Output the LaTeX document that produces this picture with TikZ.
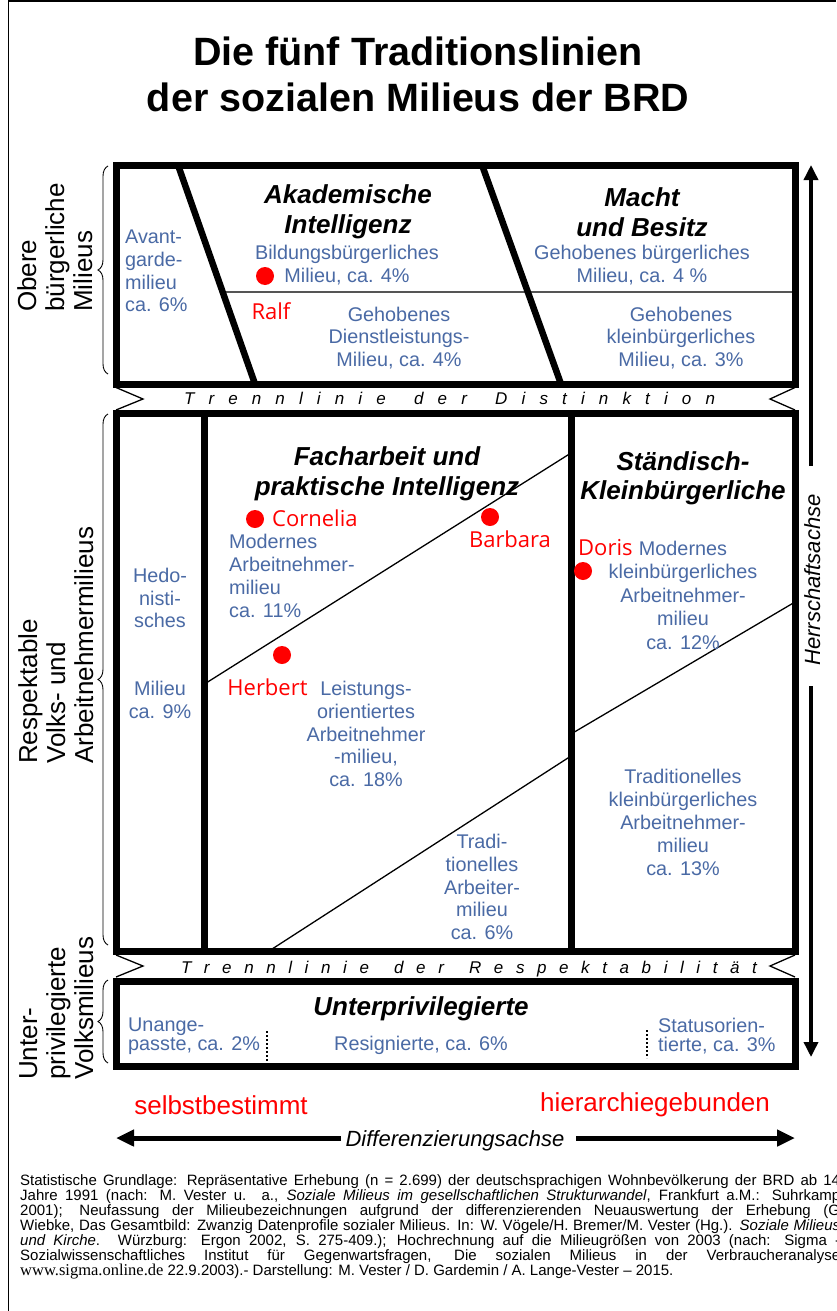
\documentclass[tikz,border=0pt]{standalone}
\usepackage{fontspec}
\setmainfont{Liberation Sans}
\newfontfamily\namefont{Open Sans}
\newfontfamily\urlfont{Liberation Serif}
\usetikzlibrary{arrows.meta,decorations.pathreplacing}

\definecolor{milieublue}{HTML}{4A6AA5}
\definecolor{namered}{HTML}{FF0000}
\definecolor{rulegray}{HTML}{555555}

\newcommand\fsz[2]{\fontsize{#1pt}{#2pt}\selectfont}
% stretchable gaps between the letters and words of a spaced-out caption
\newcommand\lgp{\hfil}
\newcommand\wordgap{\hfil\hfil}

\begin{document}
\begin{tikzpicture}[x=1pt,y=-1pt,
  boxline/.style={line width=7pt, line join=miter},
  divider/.style={line width=6.5pt},
  thinrule/.style={line width=1.3pt},
  notchline/.style={line width=1.3pt, line join=miter},
  milieutext/.style={text=milieublue, font=\fsz{19.8}{22.8}, align=center, inner sep=0pt},
  headtext/.style={font=\fsz{26}{30}\bfseries\itshape, align=center, inner sep=0pt},
  nametext/.style={text=namered, font=\namefont\fsz{22}{24}, inner sep=0pt},
  persondot/.style={circle, fill=namered, minimum size=18pt, inner sep=0pt},
  sidelabel/.style={rotate=90, align=left, font=\fsz{26}{28}, inner sep=0pt, anchor=north west},
  groupbrace/.style={decorate, decoration={brace, amplitude=10pt}, line width=0.9pt},
  trenntext/.style={font=\fsz{17}{20}\itshape, inner sep=0pt, anchor=base},
  axisline/.style={line width=3.5pt, -{Triangle[width=14pt,length=15pt]}},
  diffline/.style={line width=5pt, -{Triangle[width=16pt,length=18pt]}},
  axislabel/.style={font=\fsz{22}{24}\itshape, inner sep=0pt, anchor=base},
  polelabel/.style={text=namered, font=\fsz{26}{28}, inner sep=0pt, anchor=base},
  footline/.style={font=\fsz{15}{15}, inner sep=0pt, anchor=base west},
  sepdots/.style={line width=2pt, dash pattern=on 2pt off 2pt},
]
\useasboundingbox (0,0) rectangle (836,1311);
\clip (0,0) rectangle (836,1311);
\fill[white] (0,0) rectangle (836,1311);

% page frame
\draw[line width=1.3pt] (836,1) -- (8.5,1) -- (8.5,1311);

% title
\node[font=\fsz{39.5}{46}\bfseries, inner sep=0pt, anchor=base] (title1) at (418,66) {Die fünf Traditionslinien};
\node[font=\fsz{39.5}{46}\bfseries, inner sep=0pt, anchor=base] (title2) at (418,112) {der sozialen Milieus der BRD};

% ---------- upper block ----------
\draw[rulegray, thinrule] (222,292) -- (795,292);
\draw[divider] (178,165) -- (255,384);
\draw[divider] (482,165) -- (561,384);
\draw[boxline] (116,165) rectangle (795,384);

\node[milieutext, align=left, anchor=west] (avant) at (125,271) {Avant-\\garde-\\milieu\\ca. 6\%};
\node[headtext] (akad) at (348,212) {Akademische\\Intelligenz};
\node[milieutext] (bildung) at (347,265) {Bildungsbürgerliches\\Milieu, ca. 4\%};
\node[persondot] (dotRalf) at (265,276) {};
\node[nametext] (ralf) at (271,311) {Ralf};
\node[milieutext] (dienst) at (399,338) {Gehobenes\\Dienstleistungs-\\Milieu, ca. 4\%};
\node[headtext] (macht) at (642,212.5) {Macht\\und Besitz};
\node[milieutext] (gbuerg) at (642,265) {Gehobenes bürgerliches\\Milieu, ca. 4 \%};
\node[milieutext] (gklein) at (681,338) {Gehobenes\\kleinbürgerliches\\Milieu, ca. 3\%};

% dividing band
\draw[notchline] (116,387.5) -- (143,399) -- (116,410);
\draw[notchline] (795,387.5) -- (770,399) -- (795,410);
\node[trenntext] (distinktion) at (449.5,404) {\hbox to 531pt{T\lgp r\lgp e\lgp n\lgp n\lgp l\lgp i\lgp n\lgp i\lgp e\wordgap d\lgp e\lgp r\wordgap D\lgp i\lgp s\lgp t\lgp i\lgp n\lgp k\lgp t\lgp i\lgp o\lgp n}};

% ---------- middle block ----------
\draw[thinrule] (204.5,684) -- (571,453);
\draw[thinrule] (269,951) -- (571,756);
\draw[thinrule] (571,734) -- (795,602);
\draw[divider, line width=7pt] (204.5,413.5) -- (204.5,951);
\draw[divider, line width=7pt] (571,413.5) -- (571,951);
\draw[boxline] (116,413.5) rectangle (795,951);

\node[milieutext] (hedo) at (160,598) {Hedo-\\nisti-\\sches};
\node[milieutext] (hedo2) at (160,700) {Milieu\\ca. 9\%};
\node[headtext] (fach) at (387,474) {Facharbeit und\\praktische Intelligenz};
\node[persondot] (dotCornelia) at (255,519) {};
\node[nametext, anchor=west] (cornelia) at (272,518) {Cornelia};
\node[milieutext, align=left, anchor=west] (modarb) at (229,576) {Modernes\\Arbeitnehmer-\\milieu\\ca. 11\%};
\node[persondot] (dotBarbara) at (490,517) {};
\node[nametext] (barbara) at (510,539) {Barbara};
\node[persondot] (dotHerbert) at (282,655) {};
\node[nametext] (herbert) at (267.5,687) {Herbert};
\node[milieutext] (leistung) at (366,734) {Leistungs-\\orientiertes\\Arbeitnehmer\\-milieu,\\ca. 18\%};
\node[milieutext] (tradarb) at (482,887) {Tradi-\\tionelles\\Arbeiter-\\milieu\\ca. 6\%};
\node[headtext, font=\fsz{26}{29}\bfseries\itshape] (staend) at (683,478) {Ständisch-\\Kleinbürgerliche};
\node[nametext, anchor=west] (doris) at (578,548) {Doris};
\node[persondot] (dotDoris) at (583,571) {};
\node[milieutext, font=\fsz{19.8}{23.5}] (modklein) at (683,595) {Modernes\\kleinbürgerliches\\Arbeitnehmer-\\milieu\\ca. 12\%};
\node[milieutext, font=\fsz{19.8}{23}] (tradklein) at (683,822) {Traditionelles\\kleinbürgerliches\\Arbeitnehmer-\\milieu\\ca. 13\%};

% dividing band
\draw[notchline] (116,955) -- (143,966) -- (116,977);
\draw[notchline] (795,955) -- (770,966) -- (795,977);
\node[trenntext] (respekt) at (469,973) {\hbox to 576pt{T\lgp r\lgp e\lgp n\lgp n\lgp l\lgp i\lgp n\lgp i\lgp e\wordgap d\lgp e\lgp r\wordgap R\lgp e\lgp s\lgp p\lgp e\lgp k\lgp t\lgp a\lgp b\lgp i\lgp l\lgp i\lgp t\lgp ä\lgp t}};

% ---------- lower block ----------
\draw[boxline] (116,981) rectangle (795,1066);
\node[headtext, anchor=base] (unterpriv) at (421,1015) {Unterprivilegierte};
\node[milieutext, font=\fsz{19.8}{19}, align=left, anchor=west] (unange) at (128,1036) {Unange-\\passte, ca. 2\%};
\node[milieutext, anchor=base] (resig) at (421,1050) {Resignierte, ca. 6\%};
\node[milieutext, font=\fsz{19.8}{19}, align=left, anchor=west] (status) at (658,1036) {Statusorien-\\tierte, ca. 3\%};
\coordinate (dotsA1) at (267,1031);
\coordinate (dotsA2) at (267,1062);
\coordinate (dotsB1) at (647,1030);
\coordinate (dotsB2) at (647,1058);
\draw[sepdots] (dotsA1) -- (dotsA2);
\draw[sepdots] (dotsB1) -- (dotsB2);

% ---------- side labels and braces ----------
\node[sidelabel] (obere) at (17,312) {Obere\\bürgerliche\\Milieus};
\node[sidelabel] (respektabel) at (18,764) {Respektable\\Volks- und\\Arbeitnehmermilieus};
\node[sidelabel] (unterlabel) at (19,1080) {Unter-\\privilegierte\\Volksmilieus};
\coordinate (braceA1) at (108,374);
\coordinate (braceA2) at (108,166);
\coordinate (braceB1) at (108,945);
\coordinate (braceB2) at (108,414);
\coordinate (braceC1) at (108,1063);
\coordinate (braceC2) at (108,980);
\draw[groupbrace] (braceA1) -- (braceA2);
\draw[groupbrace] (braceB1) -- (braceB2);
\draw[groupbrace] (braceC1) -- (braceC2);

% ---------- axes ----------
\node[axislabel, rotate=90] (herrschaft) at (820,580) {Herrschaftsachse};
\coordinate (hTop) at (811,165);
\coordinate (hUpEnd) at (811,466);
\coordinate (hLowStart) at (811,686);
\coordinate (hBot) at (811,1057);
\draw[axisline] (hUpEnd) -- (hTop);
\draw[axisline] (hLowStart) -- (hBot);

\node[polelabel] (selbst) at (221,1114) {selbstbestimmt};
\node[polelabel] (hierarchie) at (655,1111) {hierarchiegebunden};
\node[axislabel] (differenz) at (455,1146) {Differenzierungsachse};
\coordinate (dLeft) at (116,1138);
\coordinate (dL) at (341,1138);
\coordinate (dR) at (576,1138);
\coordinate (dRight) at (795,1138);
\draw[diffline] (dL) -- (dLeft);
\draw[diffline] (dR) -- (dRight);

% ---------- source note ----------
\node[footline] (fn1) at (20,1185.4) {\makebox[820pt][s]{Statistische Grundlage: Repräsentative Erhebung (n = 2.699) der deutschsprachigen Wohnbevölkerung der BRD ab 14}};
\node[footline] (fn2) at (20,1200.4) {\makebox[820pt][s]{Jahre 1991 (nach: M. Vester u. a., \textit{Soziale Milieus im gesellschaftlichen Strukturwandel}, Frankfurt a.M.: Suhrkamp}};
\node[footline] (fn3) at (20,1215.4) {\makebox[820pt][s]{2001); Neufassung der Milieubezeichnungen aufgrund der differenzierenden Neuauswertung der Erhebung (G}};
\node[footline] (fn4) at (20,1230.4) {\makebox[820pt][s]{Wiebke, Das Gesamtbild: Zwanzig Datenprofile sozialer Milieus. In: W. Vögele/H. Bremer/M. Vester (Hg.). \textit{Soziale Milieus}}};
\node[footline] (fn5) at (20,1245.4) {\makebox[820pt][s]{\textit{und Kirche}. Würzburg: Ergon 2002, S. 275-409.); Hochrechnung auf die Milieugrößen von 2003 (nach: Sigma -}};
\node[footline] (fn6) at (20,1260.4) {\makebox[820pt][s]{Sozialwissenschaftliches Institut für Gegenwartsfragen, Die sozialen Milieus in der Verbraucheranalyse}};
\node[footline] (fn7) at (20,1275.4) {{\urlfont\fontsize{16.5pt}{15pt}\selectfont www.sigma.online.de} 22.9.2003).- Darstellung: M. Vester / D. Gardemin / A. Lange-Vester – 2015.};
\end{tikzpicture}
\end{document}
